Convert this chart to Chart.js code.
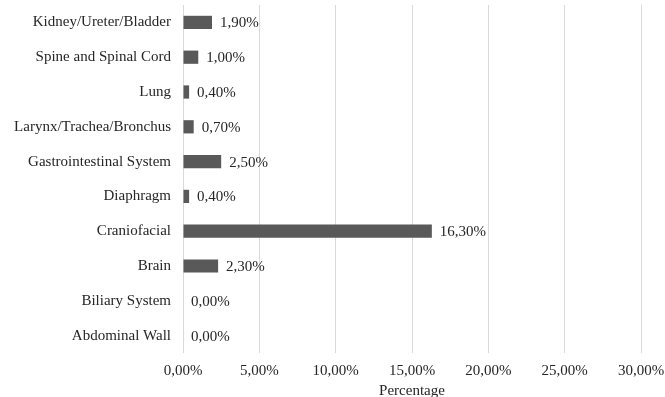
<!DOCTYPE html>
<html>
<head>
<meta charset="utf-8">
<script src="https://cdn.jsdelivr.net/npm/chart.js@4/dist/chart.umd.min.js"></script>
<style>
  html, body { margin: 0; padding: 0; background: #fff; }
  #wrap { width: 665px; height: 397px; }
</style>
</head>
<body>
<div id="wrap"><canvas id="chart"></canvas></div>
<script>
// categories, top to bottom as shown
const categories = [
  'Kidney/Ureter/Bladder', 'Spine and Spinal Cord', 'Lung', 'Larynx/Trachea/Bronchus',
  'Gastrointestinal System', 'Diaphragm', 'Craniofacial', 'Brain',
  'Biliary System', 'Abdominal Wall'
];
const percentages = [1.9, 1.0, 0.4, 0.7, 2.5, 0.4, 16.3, 2.3, 0.0, 0.0];
const xTicks = [0, 5, 10, 15, 20, 25, 30];

const FONT = '"Liberation Serif", "Times New Roman", serif';
const TEXT = '#262626';
const fmt = v => v.toFixed(2).replace('.', ',') + '%';

// value labels right of each bar
const barLabels = {
  id: 'barLabels',
  afterDatasetsDraw(chart) {
    const ctx = chart.ctx;
    const meta = chart.getDatasetMeta(0);
    ctx.save();
    ctx.font = '15px ' + FONT;
    ctx.fillStyle = TEXT;
    ctx.textAlign = 'left';
    ctx.textBaseline = 'middle';
    meta.data.forEach((bar, i) => {
      ctx.fillText(fmt(percentages[i]), bar.x + 8, bar.y + 1);
    });
    ctx.restore();
  }
};

new Chart(document.getElementById('chart'), {
  type: 'bar',
  data: {
    labels: categories,
    datasets: [{
      data: percentages,
      backgroundColor: '#595959',
      borderWidth: 0,
      categoryPercentage: 0.38,
      barPercentage: 1.0
    }]
  },
  options: {
    indexAxis: 'y',
    responsive: true,
    maintainAspectRatio: false,
    animation: false,
    layout: { padding: { top: 5, right: 24, bottom: 0, left: 0 } },
    plugins: {
      legend: { display: false },
      tooltip: { enabled: false }
    },
    scales: {
      x: {
        min: 0, max: 30,
        afterBuildTicks: axis => { axis.ticks = xTicks.map(v => ({ value: v })); },
        afterFit: axis => { axis.height = 44; axis.paddingLeft = 0; axis.paddingRight = 0; },
        grid: { color: '#d9d9d9', lineWidth: 1, drawTicks: false },
        border: { display: false },
        ticks: {
          color: TEXT, padding: 9,
          font: { family: FONT, size: 15 },
          callback: v => fmt(v)
        },
        title: {
          display: true, text: 'Percentage', color: TEXT,
          font: { family: FONT, size: 15 },
          padding: { top: 0, bottom: -3 }
        }
      },
      y: {
        grid: { display: false, drawTicks: false },
        border: { display: false },
        afterFit: axis => { axis.width = 183; axis.paddingTop = 0; axis.paddingBottom = 0; },
        ticks: {
          color: TEXT, padding: 12,
          font: { family: FONT, size: 15 }
        }
      }
    }
  },
  plugins: [barLabels]
});
</script>
</body>
</html>
